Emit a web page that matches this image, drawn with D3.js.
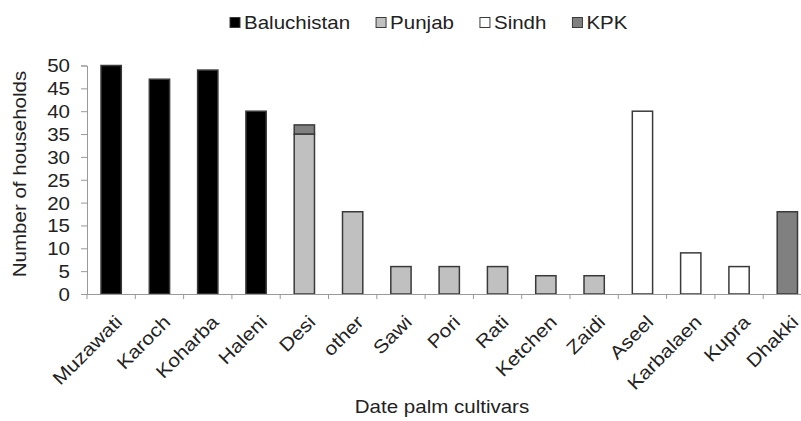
<!DOCTYPE html>
<html>
<head>
<meta charset="utf-8">
<script src="https://cdn.jsdelivr.net/npm/d3@7"></script>
<style>
  body { margin: 0; background: #fff; }
  svg text { font-family: "Liberation Sans", Arial, sans-serif; fill: #222; }
</style>
</head>
<body>
<div id="plot-container"></div>
<script>
// cultivar names, left to right
const cultivars = ['Muzawati', 'Karoch', 'Koharba', 'Haleni', 'Desi', 'other', 'Sawi', 'Pori',
  'Rati', 'Ketchen', 'Zaidi', 'Aseel', 'Karbalaen', 'Kupra', 'Dhakki'];

const provinces = ['Baluchistan', 'Punjab', 'Sindh', 'KPK'];
const provinceColors = ['#000000', '#c0c0c0', '#ffffff', '#808080'];

// households per cultivar, one array per province (stacked)
const baluchistan = [50, 47, 49, 40, 0, 0, 0, 0, 0, 0, 0, 0, 0, 0, 0];
const punjab      = [0, 0, 0, 0, 35, 18, 6, 6, 6, 4, 4, 0, 0, 0, 0];
const sindh       = [0, 0, 0, 0, 0, 0, 0, 0, 0, 0, 0, 40, 9, 6, 0];
const kpk         = [0, 0, 0, 0, 2, 0, 0, 0, 0, 0, 0, 0, 0, 0, 18];

const yTicks = [0, 5, 10, 15, 20, 25, 30, 35, 40, 45, 50];

const W = 801, H = 421;
const stretch = 1.14; // text in the original is a bit wide

const rows = cultivars.map((c, i) => ({
  cultivar: c,
  Baluchistan: baluchistan[i],
  Punjab: punjab[i],
  Sindh: sindh[i],
  KPK: kpk[i]
}));

const svg = d3.select('#plot-container')
  .append('svg')
  .attr('width', W)
  .attr('height', H);

const x = d3.scaleBand()
  .domain(cultivars)
  .range([87, 811.5])
  .padding(0);

const y = d3.scaleLinear()
  .domain([0, 50])
  .range([294, 65.5]);

const color = d3.scaleOrdinal().domain(provinces).range(provinceColors);

const barW = x.bandwidth() * 0.42;

// stacked bars
const stacked = d3.stack().keys(provinces)(rows);
stacked.forEach(layer => {
  svg.append('g')
    .selectAll('rect')
    .data(layer.filter(d => d[1] - d[0] > 0))
    .join('rect')
    .attr('x', d => x(d.data.cultivar) + (x.bandwidth() - barW) / 2)
    .attr('y', d => y(d[1]))
    .attr('width', barW)
    .attr('height', d => y(d[0]) - y(d[1]))
    .attr('fill', color(layer.key))
    .attr('stroke', '#3a3a3a')
    .attr('stroke-width', 1.5);
});

// y axis
const yAxis = svg.append('g')
  .attr('transform', 'translate(87,0)')
  .call(d3.axisLeft(y).tickValues(yTicks).tickSize(6).tickPadding(0));
yAxis.select('.domain').attr('stroke', '#999');
yAxis.selectAll('.tick line').attr('stroke', '#999');
yAxis.selectAll('.tick text')
  .attr('x', 0)
  .attr('dy', '0.36em')
  .attr('transform', `translate(-17,0) scale(${stretch},1)`)
  .style('font-size', '18px')
  .style('fill', '#222');

// x axis: line plus ticks on category boundaries
const xAxis = svg.append('g')
  .attr('transform', 'translate(0,294)')
  .call(d3.axisBottom(x).tickSize(0).tickFormat(''));
xAxis.select('.domain').attr('stroke', '#999');

svg.append('g')
  .selectAll('line')
  .data(cultivars)
  .join('line')
  .attr('x1', d => x(d))
  .attr('x2', d => x(d))
  .attr('y1', 294)
  .attr('y2', 299)
  .attr('stroke', '#999');

// rotated category labels
svg.append('g')
  .selectAll('text')
  .data(cultivars)
  .join('text')
  .attr('transform', d => `translate(${x(d) + x.bandwidth() / 2 + 3},${314}) rotate(-45) scale(${stretch},1)`)
  .attr('text-anchor', 'end')
  .attr('dy', '0.7em')
  .style('font-size', '18.5px')
  .text(d => d);

// axis titles
svg.append('text')
  .attr('transform', `translate(442,413) scale(${stretch},1)`)
  .attr('text-anchor', 'middle')
  .style('font-size', '18px')
  .text('Date palm cultivars');

svg.append('text')
  .attr('transform', `translate(26,174) rotate(-90) scale(${stretch},1)`)
  .attr('text-anchor', 'middle')
  .style('font-size', '18px')
  .text('Number of households');

// legend
const legend = svg.append('g');
let lx = 230;
provinces.forEach(p => {
  legend.append('rect')
    .attr('x', lx)
    .attr('y', 17.5)
    .attr('width', 10)
    .attr('height', 10)
    .attr('fill', color(p))
    .attr('stroke', '#3a3a3a')
    .attr('stroke-width', 1);
  const t = legend.append('text')
    .attr('transform', `translate(${lx + 14},29) scale(${stretch},1)`)
    .style('font-size', '18px')
    .text(p);
  lx += 14 + t.node().getComputedTextLength() * stretch + 26;
});
</script>
</body>
</html>
